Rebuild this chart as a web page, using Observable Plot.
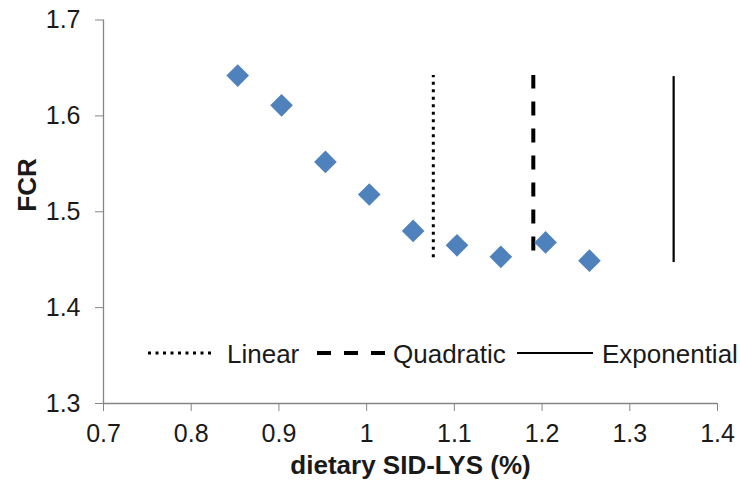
<!DOCTYPE html>
<html>
<head>
<meta charset="utf-8">
<script src="https://cdn.jsdelivr.net/npm/d3@7"></script>
<script src="https://cdn.jsdelivr.net/npm/@observablehq/plot@0.6"></script>
<style>
  html, body { margin: 0; padding: 0; background: #fff; }
  #chart { position: relative; width: 740px; height: 491px; font-family: "Liberation Sans", Arial, sans-serif; }
  #chart svg { display: block; }
</style>
</head>
<body>
<div id="chart"></div>
<script>
// ---- data ----
const lysine = [0.853, 0.903, 0.953, 1.003, 1.053, 1.103, 1.153, 1.204, 1.254];
const fcr    = [1.642, 1.611, 1.552, 1.518, 1.480, 1.465, 1.453, 1.468, 1.449];

const fitNames       = ["Linear", "Quadratic", "Exponential"];
const fitBreakpoints = [1.076, 1.190, 1.350];
const fitLow         = [1.452, 1.459, 1.447];
const fitHigh        = [1.642, 1.642, 1.641];

const xTicks = [0.7, 0.8, 0.9, 1.0, 1.1, 1.2, 1.3, 1.4];
const yTicks = [1.3, 1.4, 1.5, 1.6, 1.7];

const xTitle = "dietary SID-LYS (%)";
const yTitle = "FCR";

// ---- styles (not data) ----
const fitStyle = {
  Linear:      { dash: "3,4.5", width: 3 },
  Quadratic:   { dash: "14,13", width: 4 },
  Exponential: { dash: null,    width: 2.2 }
};
const axisGrey = "#868686";
const textColor = "#1a1a1a";
const pointColor = "#4f81bd";

// ---- tables ----
const points = lysine.map((x, i) => ({ x, y: fcr[i] }));
const fits = fitNames.map((name, i) => ({ name, x: fitBreakpoints[i], y1: fitLow[i], y2: fitHigh[i] }));

const fmt = d => String(+d.toFixed(2));

const fitMarks = fitNames.map(name => Plot.ruleX(fits.filter(f => f.name === name), {
  x: "x", y1: "y1", y2: "y2",
  stroke: "black",
  strokeWidth: fitStyle[name].width,
  strokeDasharray: fitStyle[name].dash || undefined
}));

const plot = Plot.plot({
  width: 740,
  height: 491,
  marginLeft: 103,
  marginRight: 23,
  marginTop: 19.5,
  marginBottom: 88,
  style: { fontFamily: '"Liberation Sans", Arial, sans-serif', fontSize: "25px", background: "white", color: textColor },
  x: { domain: [0.7, 1.4], axis: null },
  y: { domain: [1.3, 1.7], axis: null },
  marks: [
    Plot.ruleX([0.7], { stroke: axisGrey, strokeWidth: 1.3 }),
    Plot.ruleY([1.3], { stroke: axisGrey, strokeWidth: 1.3 }),
    Plot.axisY({ ticks: yTicks, tickSize: 8, tickPadding: 15, tickFormat: fmt, stroke: axisGrey, fill: textColor, label: null }),
    Plot.axisX({ ticks: xTicks, tickSize: 8, tickPadding: 13, tickFormat: fmt, stroke: axisGrey, fill: textColor, label: null }),
    ...fitMarks,
    Plot.dot(points, { x: "x", y: "y", symbol: "diamond2", r: 10.2, fill: pointColor, stroke: "none" }),
    Plot.text([xTitle], { frameAnchor: "bottom", dy: 70.5, fontWeight: "bold", fontSize: 26, fill: textColor }),
    Plot.text([yTitle], { frameAnchor: "left", dx: -76, rotate: -90, fontWeight: "bold", fontSize: 26, fill: textColor })
  ]
});

const chart = document.getElementById("chart");
chart.appendChild(plot);

// ---- legend overlay (inside plot area) ----
const legendLayout = [
  { x0: 148, x1: 213, tx: 227 },
  { x0: 317, x1: 385, tx: 393 },
  { x0: 517, x1: 593, tx: 602 }
];
const legend = d3.create("svg")
  .attr("width", 740).attr("height", 491)
  .style("position", "absolute").style("left", "0px").style("top", "0px")
  .style("pointer-events", "none");
fitNames.forEach((name, i) => {
  const L = legendLayout[i];
  const s = fitStyle[name];
  const line = legend.append("line")
    .attr("x1", L.x0).attr("x2", L.x1).attr("y1", 353).attr("y2", 353)
    .attr("stroke", "black").attr("stroke-width", s.width);
  if (s.dash) line.attr("stroke-dasharray", s.dash);
  legend.append("text")
    .attr("x", L.tx).attr("y", 362.5)
    .attr("font-family", '"Liberation Sans", Arial, sans-serif')
    .attr("font-size", 26)
    .attr("fill", textColor)
    .text(name);
});
chart.appendChild(legend.node());
</script>
</body>
</html>
